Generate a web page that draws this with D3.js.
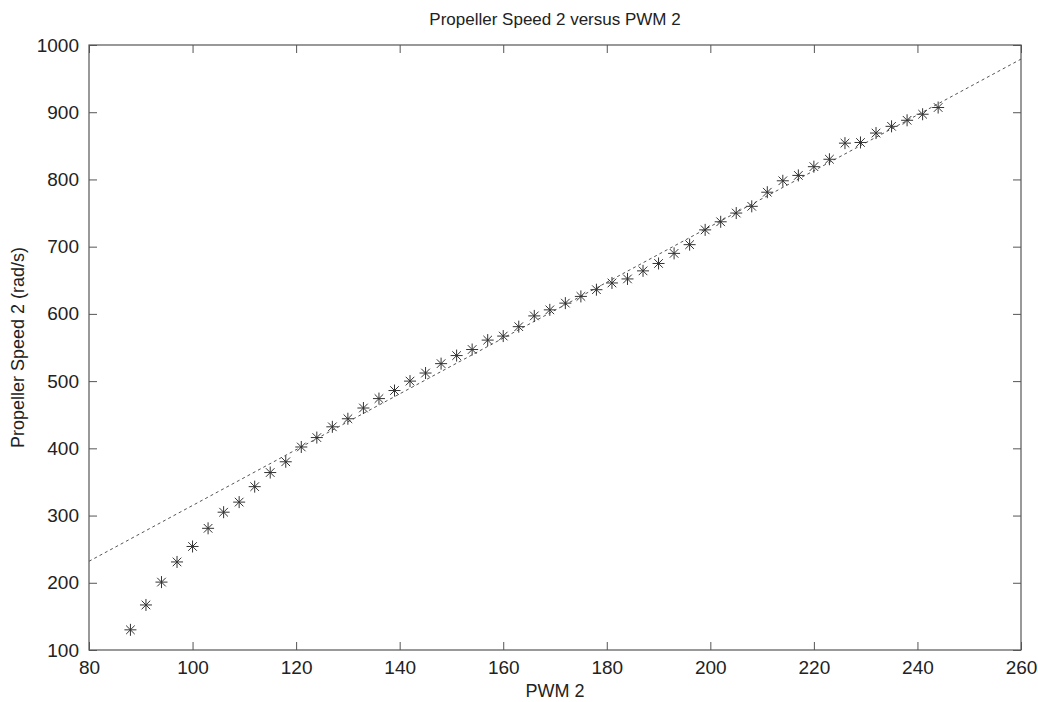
<!DOCTYPE html>
<html>
<head>
<meta charset="utf-8">
<script src="https://cdn.jsdelivr.net/npm/d3@7"></script>
<style>
  body { margin: 0; background: #fff; }
  text { font-family: "Liberation Sans", Arial, sans-serif; fill: #222; }
</style>
</head>
<body>
<div id="chart"></div>
<script>
// measured points (PWM 2 -> propeller speed 2)
var pwm = [88, 91, 94, 97, 100, 103, 106, 109, 112, 115, 118, 121, 124, 127, 130, 133,
           136, 139, 142, 145, 148, 151, 154, 157, 160, 163, 166, 169, 172, 175, 178, 181,
           184, 187, 190, 193, 196, 199, 202, 205, 208, 211, 214, 217, 220, 223, 226, 229,
           232, 235, 238, 241, 244];
var speed = [130, 167, 201, 231, 254, 281, 305, 320, 343, 364, 380, 402, 416, 432, 444, 460,
             474, 486, 500, 512, 526, 538, 547, 561, 567, 581, 597, 606, 616, 626, 636, 646,
             652, 664, 675, 690, 703, 725, 737, 750, 760, 781, 798, 806, 819, 830, 854, 855,
             869, 879, 888, 897, 907];

// linear fit, drawn between its end points
var fitX = [80, 260];
var fitY = [232, 979];

var xTicks = [80, 100, 120, 140, 160, 180, 200, 220, 240, 260];
var yTicks = [100, 200, 300, 400, 500, 600, 700, 800, 900, 1000];

function main() {
    var W = 1038, H = 702;
    var pL = 89, pR = 1021, pT = 45, pB = 650;

    var svg = d3.select("#chart").append("svg")
        .attr("width", W)
        .attr("height", H);

    var x = d3.scaleLinear().domain([80, 260]).range([pL, pR]);
    var y = d3.scaleLinear().domain([100, 1000]).range([pB, pT]);

    // box
    svg.append("rect")
        .attr("x", pL).attr("y", pT)
        .attr("width", pR - pL).attr("height", pB - pT)
        .style("fill", "none").style("stroke", "#555").style("stroke-width", 1.2);

    // ticks point inward on all four sides
    var tl = 8;
    svg.append("g").attr("transform", "translate(0," + pB + ")")
       .call(d3.axisBottom(x).tickValues(xTicks).tickSize(-tl).tickPadding(11).tickFormat(d3.format("d")))
       .call(function (g) { g.select(".domain").remove(); });
    svg.append("g").attr("transform", "translate(0," + pT + ")")
       .call(d3.axisTop(x).tickValues(xTicks).tickSize(-tl).tickFormat(""))
       .call(function (g) { g.select(".domain").remove(); });
    svg.append("g").attr("transform", "translate(" + pL + ",0)")
       .call(d3.axisLeft(y).tickValues(yTicks).tickSize(-tl).tickPadding(10).tickFormat(d3.format("d")))
       .call(function (g) { g.select(".domain").remove(); });
    svg.append("g").attr("transform", "translate(" + pR + ",0)")
       .call(d3.axisRight(y).tickValues(yTicks).tickSize(-tl).tickFormat(""))
       .call(function (g) { g.select(".domain").remove(); });

    svg.selectAll(".tick line").style("stroke", "#555");
    svg.selectAll(".tick text")
       .style("font-size", "19px")
       .style("font-family", "'Liberation Sans', Arial, sans-serif")
       .style("fill", "#222");

    // fitted line
    svg.append("path")
       .datum(d3.zip(fitX, fitY))
       .attr("d", d3.line().x(function (d) { return x(d[0]); }).y(function (d) { return y(d[1]); }))
       .style("fill", "none")
       .style("stroke", "#555")
       .style("stroke-width", 1)
       .style("stroke-dasharray", "3,3");

    // asterisk markers
    var a = 6, b = 4.3;
    var star = "M" + (-a) + ",0L" + a + ",0M0," + (-a) + "L0," + a +
               "M" + (-b) + "," + (-b) + "L" + b + "," + b +
               "M" + (-b) + "," + b + "L" + b + "," + (-b);

    svg.append("g")
       .selectAll("path")
       .data(d3.zip(pwm, speed))
       .enter()
       .append("path")
       .attr("d", star)
       .attr("transform", function (d) { return "translate(" + x(d[0]) + "," + y(d[1]) + ")"; })
       .style("fill", "none")
       .style("stroke", "#333")
       .style("stroke-width", 1);

    // labels
    svg.append("text")
       .attr("x", 555).attr("y", 25)
       .attr("text-anchor", "middle")
       .style("font-size", "17px")
       .text("Propeller Speed 2 versus PWM 2");

    svg.append("text")
       .attr("x", 555).attr("y", 697)
       .attr("text-anchor", "middle")
       .style("font-size", "18px")
       .text("PWM 2");

    svg.append("text")
       .attr("transform", "translate(24," + ((pT + pB) / 2) + ") rotate(-90)")
       .attr("text-anchor", "middle")
       .style("font-size", "18px")
       .text("Propeller Speed 2 (rad/s)");
}

main();
</script>
</body>
</html>
